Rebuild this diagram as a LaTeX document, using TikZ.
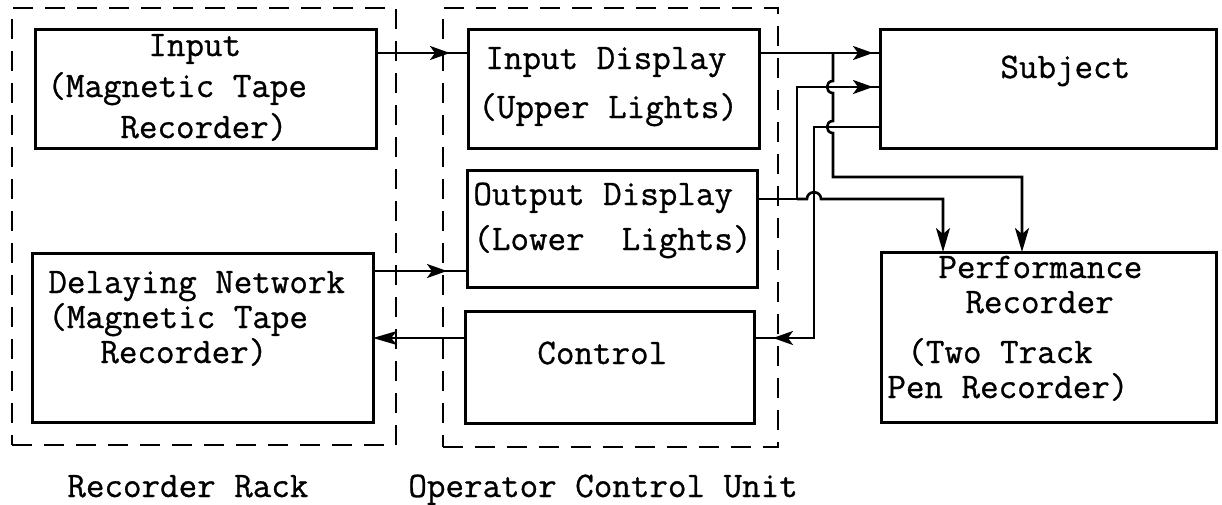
\documentclass[tikz,border=0pt]{standalone}
\usepackage{fontspec}
\setmonofont{Latin Modern Mono}[FakeBold=0.8]
\usetikzlibrary{arrows.meta,decorations.markings,fit}
\begin{document}
\begin{tikzpicture}[x=0.5pt,y=-0.5pt,
  box/.style={draw, line width=1.5pt, inner sep=0pt, outer sep=0pt},
  grp/.style={draw, line width=1.1pt, dash pattern=on 10pt off 6pt, inner sep=0pt, outer sep=0pt},
  wire/.style={line width=1.3pt},
  arrowend/.style={-{Stealth[length=12pt,width=7pt,inset=3pt]}},
  midarrow/.style={postaction={decorate}, decoration={markings, mark=at position #1 with {\arrow{Stealth[length=10pt,width=7pt,inset=2.5pt]}}}},
  lbl/.style={font=\fontsize{18}{20}\selectfont\ttfamily, anchor=base west, inner sep=0pt}
]
\useasboundingbox (0,0) rectangle (1222,504);

% groups
\node[grp, fit={(12,8)(396,445)}] (rack) {};
\node[grp, fit={(443,8)(778,447)}] (ocu) {};

% boxes
\node[box, fit={(35,29)(376,148)}] (input) {};
\node[box, fit={(32,253)(373,422)}] (delay) {};
\node[box, fit={(468,29)(759,148)}] (indisp) {};
\node[box, fit={(467,170)(757,287)}] (outdisp) {};
\node[box, fit={(465,311)(754,423)}] (control) {};
\node[box, fit={(880,29)(1216,148)}] (subject) {};
\node[box, fit={(881,252)(1216,422)}] (perf) {};

% texts
\node[lbl] (t1) at (148,56) {Input};
\node[lbl] (t2) at (47,97) {(Magnetic Tape};
\node[lbl] (t3) at (120,138) {Recorder)};
\node[lbl] (t4) at (48,293) {Delaying Network};
\node[lbl] (t5) at (48,328) {(Magnetic Tape};
\node[lbl] (t6) at (100,363) {Recorder)};
\node[lbl] (t7) at (485,69) {Input Display};
\node[lbl] (t8) at (478,118) {(Upper Lights)};
\node[lbl] (t9) at (473,205) {Output Display};
\node[lbl] (t10) at (473,250) {(Lower\ \ Lights)};
\node[lbl] (t11) at (537,364) {Control};
\node[lbl] (t12) at (1000,78) {Subject};
\node[lbl] (t13) at (938,278) {Performance};
\node[lbl] (t14) at (965,313) {Recorder};
\node[lbl] (t15) at (907,363) {(Two Track};
\node[lbl] (t16) at (887,398) {Pen Recorder)};
\node[lbl] (t17) at (67,497) {Recorder Rack};
\node[lbl] (t18) at (408,497) {Operator Control Unit};

% helper coordinates
\coordinate (yA) at (0,53);
\coordinate (yB) at (0,271);
\coordinate (yC) at (0,338);
\coordinate (yD) at (0,87);
\coordinate (yE) at (0,127);
\coordinate (yF) at (0,199);
\coordinate (jA) at (833,53);
\coordinate (jB) at (797,199);
\coordinate (jC) at (814,127);
\coordinate (xP1) at (1022,0);
\coordinate (xP2) at (943,0);

% connectors
\draw[wire, midarrow=-9pt] (input.east |- yA) -- (indisp.west |- yA);
\draw[wire, midarrow=-10pt] (delay.east |- yB) -- (outdisp.west |- yB);
\draw[wire, arrowend] (control.west |- yC) -- (delay.east |- yC);
\draw[wire, midarrow=-3.5pt] (indisp.east |- yA) -- (subject.west |- yA);
\draw[wire, arrowend] (jA) -- (833,81) .. controls (825,81) and (825,93) .. (833,93)
   -- (833,121) .. controls (825,121) and (825,133) .. (833,133)
   -- (833,177) -- (xP1 |- 0,177) -- (perf.north -| xP1);
\draw[wire, midarrow=-3.5pt] (outdisp.east |- yF) -- (jB) -- (jB |- yD) -- (subject.west |- yD);
\draw[wire, arrowend] (jB) -- (807,199) .. controls (807,190) and (821,190) .. (821,199)
   -- (xP2 |- yF) -- (perf.north -| xP2);
\draw[wire, midarrow=-9.5pt] (subject.west |- yE) -- (jC) -- (jC |- yC) -- (control.east |- yC);
\end{tikzpicture}
\end{document}
